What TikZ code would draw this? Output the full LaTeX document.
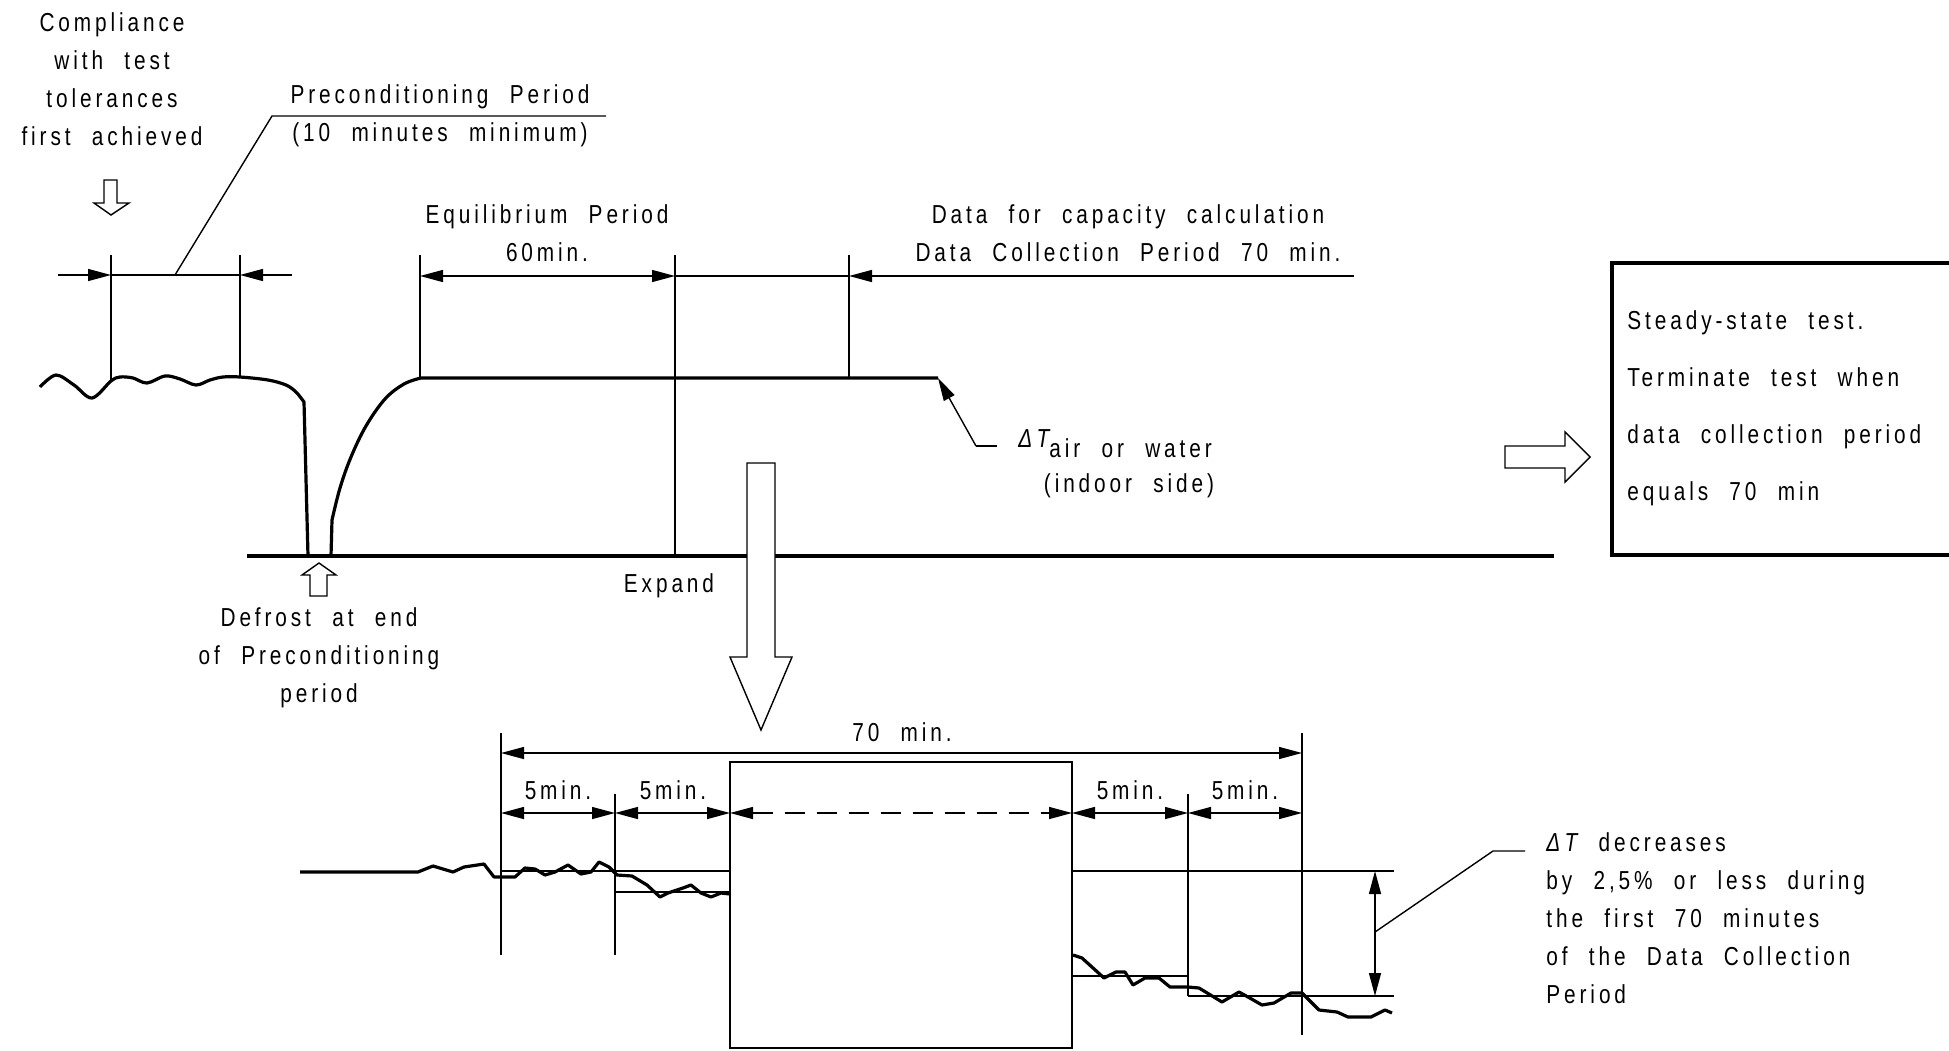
\documentclass[tikz,border=0pt]{standalone}
\usepackage{fontspec}
\setmainfont{Liberation Sans}[FakeStretch=0.8,LetterSpace=15,WordSpace=2.2]
\usetikzlibrary{arrows.meta}
\begin{document}
\begin{tikzpicture}[x=0.5pt,y=-0.5pt,
  >={Triangle[length=11.5pt,width=6pt]},
  thinl/.style={line width=0.7pt},
  thickl/.style={line width=1.6pt,line join=round},
  lbl/.style={font=\fontsize{13}{19}\selectfont,inner sep=0pt,align=center},
  lbll/.style={font=\fontsize{13}{19}\selectfont,inner sep=0pt,align=left,anchor=west},
  hollow/.style={line width=0.7pt,fill=white,line join=miter}
]
\useasboundingbox (0,0) rectangle (1949,1050);

% ---------- upper graph ----------
\coordinate (base0) at (247,556);
\coordinate (base1) at (1554,556);
\draw[thickl] (base0) -- (base1);

\draw[thickl] plot[smooth,tension=0.55] coordinates {(40,387) (56,375) (74,385) (92,398) (111,381) (120,377) (133,378) (147,383) (165,376) (180,379) (196,385) (210,380) (223,377) (240,377) (268,380) (286,385) (296,392) (304,402)} -- (308,556);
\draw[thickl] (331,556) -- (332,520) -- plot[smooth,tension=0.6] coordinates {(332,520) (340,488) (351,457) (366,426) (385,399) (404,384) (421,378)} -- (938,378);
\coordinate (flatend) at (938,378);

% extension lines
\draw[thinl] (111,255) -- (111,381);
\draw[thinl] (240,255) -- (240,377);
\draw[thinl] (420,255) -- (420,378);
\draw[thinl] (675,255) -- (675,556);
\draw[thinl] (849,255) -- (849,378);

% dimension lines
\coordinate (p0) at (58,275); \coordinate (p1) at (111,275);
\coordinate (p2) at (240,275); \coordinate (p3) at (292,275);
\draw[thinl,->] (p0) -- (p1);
\draw[thinl] (p1) -- (p2);
\draw[thinl,->] (p3) -- (p2);
\coordinate (e0) at (420,276); \coordinate (e1) at (675,276);
\coordinate (e2) at (849,276); \coordinate (e3) at (1354,276);
\draw[thinl,<->] (e0) -- (e1);
\draw[thinl] (e1) -- (e2);
\draw[thinl,->] (e3) -- (e2);

% leader preconditioning
\coordinate (pl0) at (175,275); \coordinate (pl1) at (272,116); \coordinate (pl2) at (606,116);
\draw[thinl] (pl0) -- (pl1) -- (pl2);

% leader Delta T air
\coordinate (dl0) at (997,446); \coordinate (dl1) at (976,446);
\draw[thinl] (dl0) -- (dl1);
\draw[thinl,->] (dl1) -- (flatend);

% hollow arrows
\draw[hollow] (104,180) -- (117,180) -- (117,203) -- (129,203) -- (111,215) -- (94,203) -- (104,203) -- cycle;
\draw[hollow] (747,463) -- (775,463) -- (775,657) -- (792,657) -- (761,730) -- (730,657) -- (747,657) -- cycle;
\draw[hollow] (319,563) -- (336,575) -- (327,575) -- (327,596) -- (310,596) -- (310,575) -- (302,575) -- cycle;
\draw[hollow] (1505,446) -- (1565,446) -- (1565,432) -- (1590,457) -- (1565,482) -- (1565,468) -- (1505,468) -- cycle;

% right box
\draw[line width=1.6pt] (1949,263) -- (1612,263) -- (1612,555) -- (1949,555);

% texts upper
\node[lbl] (compl) at (112,79) {Compliance\\with test\\tolerances\\first achieved};
\node[lbl] (pre1) at (440,97) {Preconditioning Period};
\node[lbl] (pre2) at (440,135) {(10 minutes minimum)};
\node[lbl] (equi) at (547,233) {Equilibrium Period\\60min.};
\node[lbl] (data) at (1128,233) {Data for capacity calculation\\Data Collection Period 70 min.};
\node[lbll] (dtair) at (1018,444) {{\itshape Δ\,T}\raisebox{-5pt}{air or water}};
\node[lbl] (indoor) at (1129,486) {(indoor side)};
\node[lbl] (expand) at (669,586) {Expand};
\node[lbl] (defrost) at (319,658) {Defrost at end\\of Preconditioning\\period};
\node[font=\fontsize{13}{28.5}\selectfont,inner sep=0pt,align=left,anchor=west] (steady) at (1627,408) {Steady-state test.\\Terminate test when\\data collection period\\equals 70 min};

% ---------- lower detail ----------
\draw[thinl] (730,762) rectangle (1072,1048);
\draw[thinl] (501,733) -- (501,955);
\draw[thinl] (615,794) -- (615,955);
\draw[thinl] (1188,794) -- (1188,996);
\draw[thinl] (1302,733) -- (1302,1035);

\draw[thinl] (501,871) -- (730,871);
\draw[thinl] (615,892) -- (730,892);
\draw[thinl] (1072,871) -- (1394,871);
\draw[thinl] (1072,976) -- (1188,976);
\draw[thinl] (1188,996) -- (1394,996);

\coordinate (s0) at (501,813); \coordinate (s1) at (615,813); \coordinate (s2) at (730,813);
\coordinate (s3) at (1072,813); \coordinate (s4) at (1188,813); \coordinate (s5) at (1302,813);
\draw[thinl,<->] (s0) -- (s1);
\draw[thinl,<->] (s1) -- (s2);
\draw[thinl,<->,dash pattern=on 10pt off 6pt] (s2) -- (s3);
\draw[thinl,<->] (s3) -- (s4);
\draw[thinl,<->] (s4) -- (s5);
\coordinate (t0) at (501,753); \coordinate (t1) at (1302,753);
\draw[thinl,<->] (t0) -- (t1);

\coordinate (v0) at (1375,871); \coordinate (v1) at (1375,996);
\draw[thinl,<->] (v0) -- (v1);
\coordinate (lv) at (1375,932); \coordinate (lv1) at (1493,851); \coordinate (lv2) at (1525,851);
\draw[thinl] (lv) -- (lv1) -- (lv2);

\draw[thickl] plot coordinates {(300,872) (418,872) (433,866) (453,872) (464,867) (484,864) (494,877) (515,877) (525,868) (535,869) (545,875) (555,872) (568,865) (581,874) (591,872) (599,862) (609,867) (617,875) (632,876) (647,885) (660,897) (668,893) (683,888) (691,885) (701,893) (711,897) (721,893) (730,894)};
\draw[thickl] plot coordinates {(1073,955) (1082,958) (1093,968) (1104,978) (1116,972) (1125,972) (1133,985) (1145,978) (1159,978) (1170,987) (1188,987) (1199,988) (1222,1002) (1239,992) (1248,997) (1262,1005) (1274,1003) (1291,993) (1302,993) (1319,1010) (1337,1012) (1348,1017) (1371,1017) (1385,1010) (1392,1013)};

\node[lbl] (seventy) at (902,732) {70 min.};
\node[lbl] (m1) at (558,790) {5min.};
\node[lbl] (m2) at (673,790) {5min.};
\node[lbl] (m3) at (1130,790) {5min.};
\node[lbl] (m4) at (1245,790) {5min.};
\node[lbll] (dec) at (1546,918) {{\itshape Δ\,T} decreases\\by 2,5\% or less during\\the first 70 minutes\\of the Data Collection\\Period};
\end{tikzpicture}
\end{document}
